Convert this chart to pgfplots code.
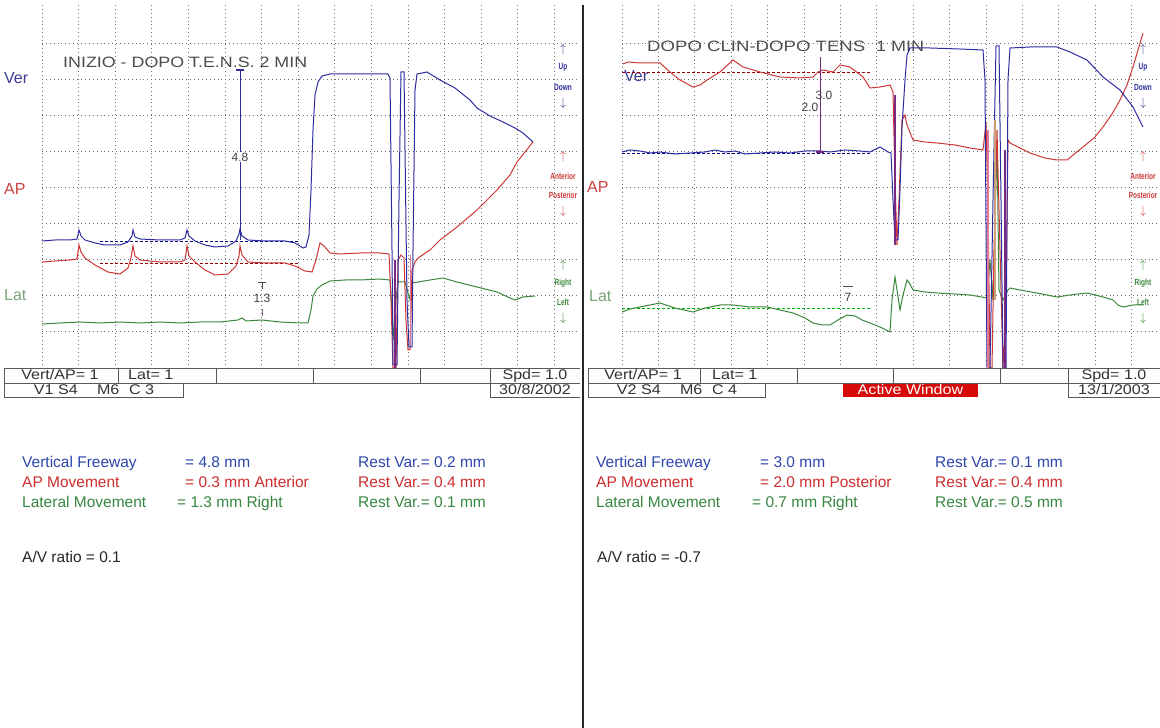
\documentclass[border=0pt]{standalone}
\usepackage{graphicx}
\usepackage{pgfplots}
\pgfplotsset{compat=1.18}
\usepackage{fontspec}
\setmainfont{Liberation Sans}
\definecolor{tblue}{RGB}{45,45,160}
\definecolor{tred}{RGB}{205,55,55}
\definecolor{tgreen}{RGB}{60,135,60}
\definecolor{lblue}{RGB}{60,60,150}
\definecolor{lred}{RGB}{205,65,65}
\definecolor{lgreen}{RGB}{120,165,120}
\definecolor{txtblue}{RGB}{45,70,170}
\definecolor{txtred}{RGB}{205,45,45}
\definecolor{txtgreen}{RGB}{55,135,65}
\definecolor{gridc}{RGB}{110,110,110}
\definecolor{spkpurple}{RGB}{120,40,130}
\definecolor{spkpink}{RGB}{225,120,150}
\definecolor{spktan}{RGB}{205,160,120}
\definecolor{activered}{RGB}{215,10,10}
\newcommand{\fs}[1]{\fontsize{#1}{#1}\selectfont}
\newcommand{\st}[1]{\scalebox{1.15}[1]{#1}}
\newcommand{\sidel}[1]{\scalebox{0.72}[1]{\bfseries #1}}
\pgfplotsset{
  panel/.style={scale only axis, width=538pt, height=363pt, ymin=5, ymax=368, y dir=reverse,
    ytick={43,79,115,151,187,223,259,295,331},
    grid=major, major grid style={gridc, line width=0.7pt, dash pattern=on 0.9pt off 3pt},
    xticklabels={}, yticklabels={}, major tick length=0pt, axis line style={draw=none},
    anchor=south west, clip=true},
}
\begin{document}
\begin{tikzpicture}
\fill[white] (0,0) rectangle (1160pt,728pt);
\useasboundingbox (0,0) rectangle (1160pt,728pt);
\begin{scope}[shift={(0,728pt)}, x=1pt, y=-1pt, every node/.style={inner sep=0pt}]
% divider
\draw[black!85, line width=1.4pt] (583,5) -- (583,728);
% status bars
\begin{scope}[draw=black!65, line width=0.9pt]
\draw (4,368) -- (580,368) (4,383) -- (580,383);
\draw (4,368) -- (4,397) -- (183,397) -- (183,383);
\draw (118,368) -- (118,383) (216,368) -- (216,383) (313,368) -- (313,383) (420,368) -- (420,383) (490,368) -- (490,397) -- (580,397);
\draw (588,368) -- (1160,368) (588,383) -- (1160,383);
\draw (588,368) -- (588,397) -- (765,397) -- (765,383);
\draw (700,368) -- (700,383) (797,368) -- (797,383) (893,368) -- (893,383) (1000,368) -- (1000,383) (1068,368) -- (1068,397) -- (1160,397);
\end{scope}
\fill[activered] (843,384) rectangle (978,397);
\begin{scope}[every node/.append style={font=\fs{14}, text=black!80, anchor=base}]
\node at (60,380) {\st{Vert/AP= 1}};
\node[anchor=base west] at (128,380) {\st{Lat= 1}};
\node at (535,380) {\st{Spd= 1.0}};
\node at (94,395) {\st{V1 S4\hspace{1.2em}M6\hspace{0.6em}C 3}};
\node at (535,395) {\st{30/8/2002}};
\node at (643,380) {\st{Vert/AP= 1}};
\node[anchor=base west] at (712,380) {\st{Lat= 1}};
\node at (1114,380) {\st{Spd= 1.0}};
\node at (677,395) {\st{V2 S4\hspace{1.2em}M6\hspace{0.6em}C 4}};
\node at (1114,395) {\st{13/1/2003}};
\node[text=white] at (910.5,395) {\st{Active Window}};
\end{scope}
% titles
\node[anchor=base west, font=\fs{15}, text=black!70] at (63,68) {\scalebox{1.19}[1]{INIZIO - DOPO T.E.N.S. 2 MIN}};
\node[anchor=base west, font=\fs{15}, text=black!70] at (647,52) {\scalebox{1.24}[1]{DOPO CLIN-DOPO TENS}};
\node[anchor=base west, font=\fs{15}, text=black!70] at (876,52) {\scalebox{1.2}[1]{1 MIN}};
% left labels
\node[anchor=west, font=\fs{16}, text=lblue] at (4,78) {Ver};
\node[anchor=west, font=\fs{16}, text=lred] at (4,189) {AP};
\node[anchor=west, font=\fs{16}, text=lgreen] at (4,295) {Lat};
\node[anchor=west, font=\fs{16}, text=lblue] at (624,76) {Ver};
\node[anchor=west, font=\fs{16}, text=lred] at (587,187) {AP};
\node[anchor=west, font=\fs{16}, text=lgreen] at (589,296) {Lat};
% side labels
\begin{scope}[every node/.append style={font=\fs{9}}]
\node[text=lblue, font=\fs{12}] at (563,50) {$\uparrow$};
\node[text=tblue] at (563,67) {\sidel{Up}};
\node[text=tblue] at (563,87) {\sidel{Down}};
\node[text=lblue, font=\fs{12}] at (563,104) {$\downarrow$};
\node[text=lred, font=\fs{12}] at (563,157) {$\uparrow$};
\node[text=tred] at (563,176) {\sidel{Anterior}};
\node[text=tred] at (563,195) {\sidel{Posterior}};
\node[text=lred, font=\fs{12}] at (563,212) {$\downarrow$};
\node[text=tgreen, font=\fs{12}] at (563,266) {$\uparrow$};
\node[text=tgreen] at (563,283) {\sidel{Right}};
\node[text=tgreen] at (563,302) {\sidel{Left}};
\node[text=tgreen, font=\fs{12}] at (563,319) {$\downarrow$};
\node[text=lblue, font=\fs{12}] at (1143,50) {$\uparrow$};
\node[text=tblue] at (1143,67) {\sidel{Up}};
\node[text=tblue] at (1143,87) {\sidel{Down}};
\node[text=lblue, font=\fs{12}] at (1143,104) {$\downarrow$};
\node[text=lred, font=\fs{12}] at (1143,157) {$\uparrow$};
\node[text=tred] at (1143,176) {\sidel{Anterior}};
\node[text=tred] at (1143,195) {\sidel{Posterior}};
\node[text=lred, font=\fs{12}] at (1143,212) {$\downarrow$};
\node[text=tgreen, font=\fs{12}] at (1143,266) {$\uparrow$};
\node[text=tgreen] at (1143,283) {\sidel{Right}};
\node[text=tgreen] at (1143,302) {\sidel{Left}};
\node[text=tgreen, font=\fs{12}] at (1143,319) {$\downarrow$};
\end{scope}
% bottom text
\begin{scope}[every node/.append style={font=\fs{15.5}, anchor=base west}]
\node[text=txtblue] at (22,468) {Vertical Freeway};
\node[text=txtblue] at (185,468) {= 4.8 mm};
\node[text=txtblue] at (358,468) {Rest Var.= 0.2 mm};
\node[text=txtred] at (22,488) {AP Movement};
\node[text=txtred] at (185,488) {= 0.3 mm Anterior};
\node[text=txtred] at (358,488) {Rest Var.= 0.4 mm};
\node[text=txtgreen] at (22,508) {Lateral Movement};
\node[text=txtgreen] at (177,508) {= 1.3 mm Right};
\node[text=txtgreen] at (358,508) {Rest Var.= 0.1 mm};
\node[text=black!85] at (22,563) {A/V ratio = 0.1};
\node[text=txtblue] at (596,468) {Vertical Freeway};
\node[text=txtblue] at (760,468) {= 3.0 mm};
\node[text=txtblue] at (935,468) {Rest Var.= 0.1 mm};
\node[text=txtred] at (596,488) {AP Movement};
\node[text=txtred] at (760,488) {= 2.0 mm Posterior};
\node[text=txtred] at (935,488) {Rest Var.= 0.4 mm};
\node[text=txtgreen] at (596,508) {Lateral Movement};
\node[text=txtgreen] at (752,508) {= 0.7 mm Right};
\node[text=txtgreen] at (935,508) {Rest Var.= 0.5 mm};
\node[text=black!85] at (597,563) {A/V ratio = -0.7};
\end{scope}
\end{scope}

% ---------------- LEFT PANEL ----------------
\begin{axis}[panel, at={(42pt,360pt)}, xmin=42, xmax=580,
  xtick={42,78.6,...,555}]
\addplot[black!50!blue, line width=0.7pt, dash pattern=on 3pt off 2pt] coordinates {(100,241) (300,241)};
\addplot[black!40!red, line width=0.7pt, dash pattern=on 3pt off 2pt] coordinates {(100,263) (300,263)};
\addplot[tgreen, line width=1pt] coordinates {
(42,324) (60,323) (80,322) (100,323) (120,322) (140,323) (160,322) (180,323) (200,322) (220,322)
(238,320) (242,318) (246,321) (262,320) (280,322) (300,323) (308,323) (311,310) (313,296) (317,289)
(322,285) (330,281) (345,280) (360,280) (380,279) (390,280) (392,310) (394,340) (396,300) (398,282)
(405,282) (410,300) (412,283) (418,282) (430,280) (443,278) (457,282) (477,287) (497,292) (510,298)
(515,300) (523,297) (535,296)};
\addplot[tred, line width=1pt] coordinates {
(42,262) (55,261) (70,260) (77,259) (79,245) (81,252) (85,258) (95,265) (108,272) (120,274)
(128,268) (131,258) (133,246) (135,256) (140,260) (160,262) (180,262) (185,260) (187,246) (189,256)
(195,262) (205,270) (215,275) (228,274) (236,266) (239,256) (240,246) (242,255) (248,262) (265,263)
(285,263) (295,266) (305,271) (312,272) (316,260) (320,243) (324,246) (330,253) (340,254) (360,253)
(380,253) (389,254) (391,300) (393,368) (396,368) (398,260) (401,255) (404,258) (406,320) (408,350)
(410,350) (412,270) (415,262) (418,258) (430,250) (440,240) (457,227) (477,210) (497,190) (510,175)
(517,162) (525,152) (533,142)};
\addplot[tblue, line width=1pt] coordinates {
(42,241) (55,240) (70,240) (77,239) (79,230) (81,236) (85,240) (95,243) (105,245) (120,245)
(128,242) (132,236) (133,230) (135,237) (140,239) (160,240) (180,240) (185,238) (187,230) (189,236)
(195,241) (205,245) (215,247) (228,246) (236,241) (239,234) (240,229) (242,236) (248,240) (265,241)
(285,241) (295,243) (303,248) (306,247) (309,235) (311,190) (313,130) (315,95) (318,82) (322,76)
(330,74) (360,74) (388,74) (390,78) (392,250) (393,365) (397,365) (399,200) (401,72) (404,72)
(405,150) (407,300) (409,347) (412,347) (413,250) (415,90) (417,74) (427,72) (440,80) (455,88)
(470,100) (477,108) (490,116) (503,122) (515,128) (523,133) (533,142)};
\addplot[spkpurple, line width=1.2pt] coordinates {(395,260) (395,368)};
\addplot[spkpink, line width=1pt] coordinates {(410,255) (410,345)};
% measurement
\addplot[tblue, line width=1pt] coordinates {(240,70) (240,240)};
\addplot[tblue, line width=2pt] coordinates {(236,70) (244,70)};
\node[fill=white, inner sep=1pt, font=\fs{12}, text=black!75] at (240,157) {4.8};
\addplot[black!70, line width=1pt] coordinates {(258,283) (266,283)};
\addplot[black!70, line width=1pt] coordinates {(262,283) (262,289)};
\node[inner sep=0pt, font=\fs{12}, text=black!75] at (262,298) {1.3};
\addplot[black!60, line width=1pt] coordinates {(262,309) (262,316)};
\end{axis}

% ---------------- RIGHT PANEL ----------------
\begin{axis}[panel, at={(622pt,360pt)}, xmin=622, xmax=1160,
  xtick={622,658.4,...,1135}]
\addplot[black!40!red, line width=0.7pt, dash pattern=on 3pt off 2pt] coordinates {(622,72) (870,72)};
\addplot[black!50!blue, line width=0.7pt, dash pattern=on 3pt off 2pt] coordinates {(622,153) (870,153)};
\addplot[black!30!green, line width=0.7pt, dash pattern=on 3pt off 2pt] coordinates {(622,308) (870,308)};
\addplot[tgreen, line width=1pt] coordinates {
(622,312) (630,309) (645,306) (660,303) (675,308) (693,312) (705,308) (720,305) (733,305) (750,307)
(767,307) (780,310) (793,313) (805,318) (813,323) (822,325) (830,325) (838,320) (847,315) (855,316)
(862,320) (870,323) (880,327) (890,332) (892,300) (895,277) (897,290) (900,310) (903,295) (907,280)
(910,284) (913,290) (925,292) (937,293) (955,294) (970,295) (987,298) (990,260) (993,300) (997,140)
(999,290) (1003,300) (1008,290) (1010,288) (1020,290) (1037,293) (1057,297) (1070,295) (1087,293)
(1103,297) (1113,300) (1118,305) (1123,307) (1133,305) (1143,305)};
\addplot[tred, line width=1pt] coordinates {
(623,64) (628,62) (640,63) (660,63) (670,72) (680,80) (693,87) (700,85) (707,80) (720,72)
(733,60) (743,67) (760,72) (780,77) (800,78) (813,77) (818,72) (823,70) (833,72) (840,65)
(850,67) (863,77) (870,88) (880,87) (890,85) (893,92) (895,180) (897,245) (899,200) (902,120)
(905,115) (907,125) (913,140) (925,142) (937,143) (955,145) (970,148) (983,150) (986,123) (988,200)
(990,368) (992,368) (994,250) (997,130) (1000,250) (1003,368) (1006,300) (1008,140) (1010,143)
(1030,153) (1045,158) (1057,160) (1067,160) (1083,147) (1095,137) (1103,127) (1112,114) (1120,100)
(1127,85) (1133,67) (1138,50) (1143,33)};
\addplot[tblue, line width=1pt] coordinates {
(622,152) (630,150) (640,151) (650,153) (660,152) (675,154) (690,153) (705,152) (715,150) (725,152)
(735,151) (745,154) (760,153) (775,152) (790,153) (805,151) (820,151) (830,152) (845,150) (860,151)
(870,152) (880,147) (888,152) (891,153) (893,200) (895,240) (898,240) (900,190) (902,127) (905,80)
(907,55) (910,48) (930,48) (960,49) (983,50) (985,80) (987,368) (990,368) (993,200) (996,46)
(999,46) (1001,200) (1003,368) (1006,368) (1008,80) (1010,48) (1030,47) (1057,47) (1070,52)
(1087,60) (1103,77) (1120,90) (1133,107) (1143,127)};
\addplot[spkpurple, line width=1.3pt] coordinates {(895,95) (895,245)};
\addplot[spkpink, line width=1.2pt] coordinates {(988,130) (988,368)};
\addplot[spktan, line width=1.2pt] coordinates {(995,120) (995,300)};
\addplot[spkpurple, line width=1.3pt] coordinates {(1005,150) (1005,368)};
% measurement
\addplot[spkpurple, line width=1pt] coordinates {(820,57) (820,152)};
\addplot[spkpurple, line width=2pt] coordinates {(816,152) (824,152)};
\node[inner sep=0pt, font=\fs{12}, text=black!75] at (824,95) {3.0};
\node[inner sep=0pt, font=\fs{12}, text=black!75] at (810,107) {2.0};
\addplot[black!70, line width=1pt] coordinates {(843,287) (853,287)};
\node[inner sep=0pt, font=\fs{12}, text=black!75] at (848,297) {7};
\end{axis}
\end{tikzpicture}
\end{document}
